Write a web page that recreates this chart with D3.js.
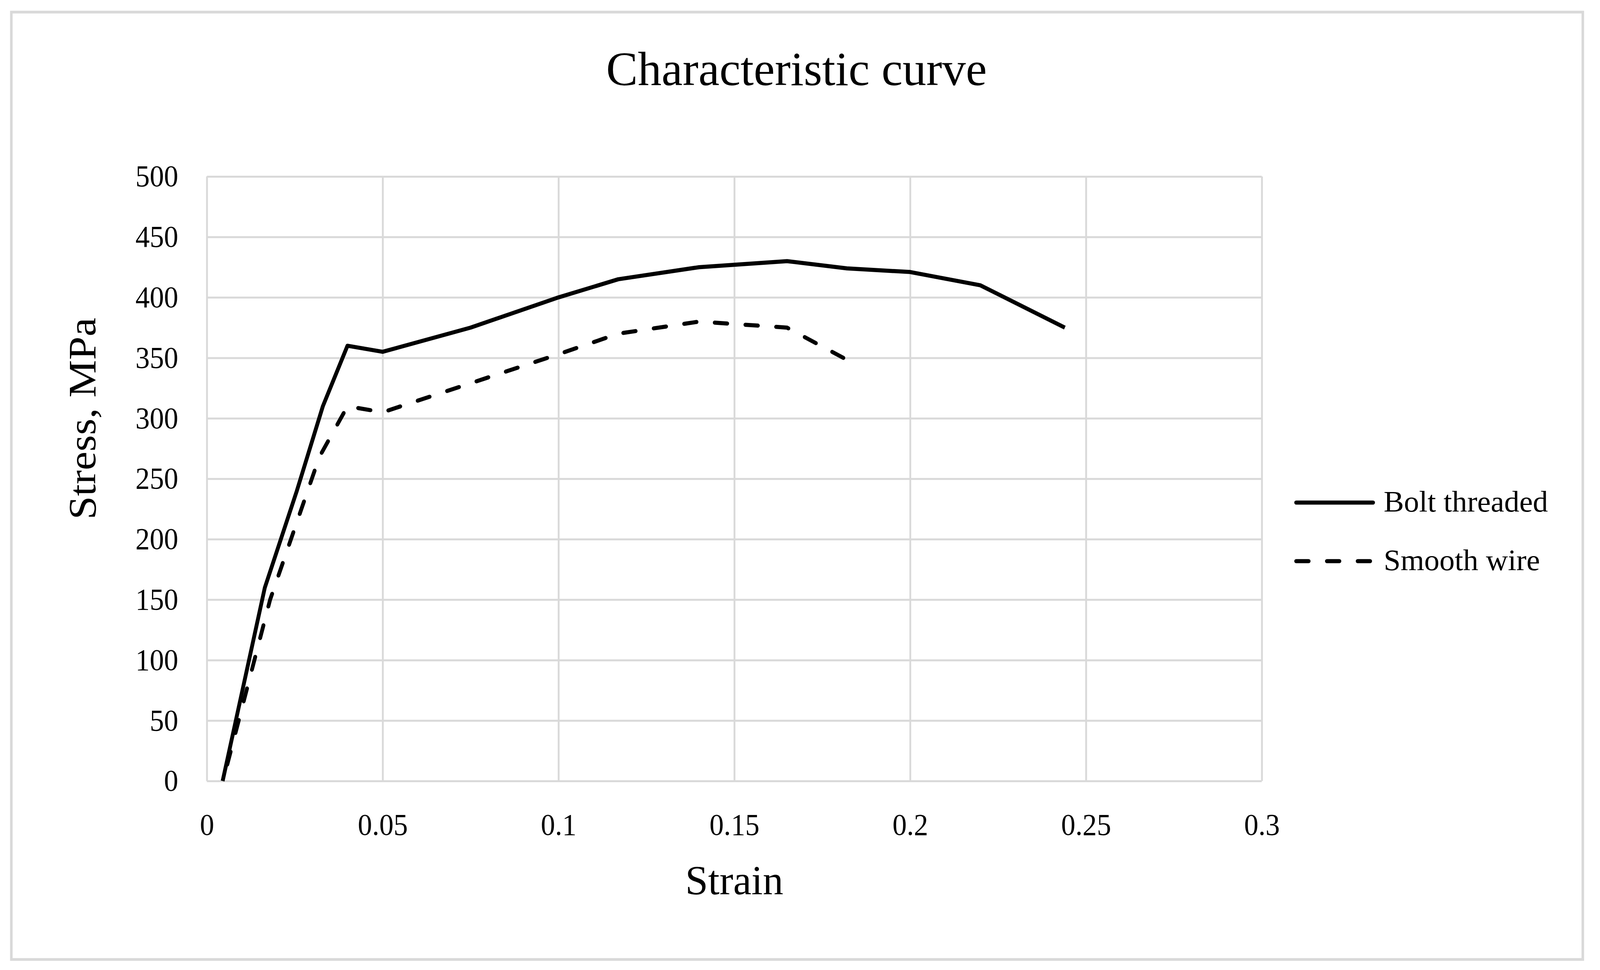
<!DOCTYPE html>
<html>
<head>
    <title>Characteristic curve</title>
    <script src="https://cdn.jsdelivr.net/npm/d3@7"></script>
    <style>
        html, body { margin: 0; padding: 0; background: #fff; overflow: hidden; }
        svg { display: block; width: 100vw; height: 100vh; }
        text { font-family: "Liberation Serif", "Times New Roman", serif; fill: #000; }
    </style>
</head>
<body>
<svg viewBox="0 0 4371 2484" preserveAspectRatio="none"></svg>

<script>
    const svg = d3.select("svg");

    // data
    const boltStrain = [0.0045, 0.0165, 0.0256, 0.033, 0.040, 0.050, 0.075, 0.100, 0.117, 0.140, 0.165, 0.182, 0.200, 0.220, 0.244];
    const boltStress = [0, 160, 240, 310, 360, 355, 375, 400, 415, 425, 430, 424, 421, 410, 375];

    const wireStrain = [0.0046, 0.018, 0.032, 0.040, 0.050, 0.075, 0.100, 0.117, 0.140, 0.165, 0.181];
    const wireStress = [0, 150, 268, 310, 305, 329, 353, 370, 380, 375, 350];

    const seriesNames = ["Bolt threaded", "Smooth wire"];
    const xTicks = [0, 0.05, 0.1, 0.15, 0.2, 0.25, 0.3];
    const xTickLabels = ["0", "0.05", "0.1", "0.15", "0.2", "0.25", "0.3"];
    const yTicks = [0, 50, 100, 150, 200, 250, 300, 350, 400, 450, 500];

    // layout
    const plotLeft = 565, plotRight = 3447, plotTop = 452, plotBottom = 2000;
    const gridColor = "#d9d9d9";

    const x = d3.scaleLinear().domain([0, 0.3]).range([plotLeft, plotRight]);
    const y = d3.scaleLinear().domain([0, 500]).range([plotBottom, plotTop]);

    // outer chart border
    svg.append("rect")
        .attr("x", 31).attr("y", 31)
        .attr("width", 4293).attr("height", 2426)
        .attr("fill", "#fff")
        .attr("stroke", gridColor)
        .attr("stroke-width", 7);

    // title
    svg.append("text")
        .attr("x", 2176).attr("y", 218)
        .attr("text-anchor", "middle")
        .attr("font-size", 122)
        .attr("textLength", 1040)
        .attr("lengthAdjust", "spacingAndGlyphs")
        .text("Characteristic curve");

    // y axis + horizontal gridlines
    const yAxis = svg.append("g")
        .attr("transform", `translate(${plotLeft},0)`)
        .call(d3.axisLeft(y).tickValues(yTicks).tickFormat(d3.format("d"))
            .tickSize(-(plotRight - plotLeft)).tickPadding(78));
    yAxis.select(".domain").remove();
    yAxis.selectAll(".tick line").attr("stroke", gridColor).attr("stroke-width", 5);
    yAxis.selectAll(".tick text")
        .attr("font-size", 78)
        .attr("font-family", "Liberation Serif, serif")
        .attr("fill", "#000");

    // x axis + vertical gridlines
    const xAxis = svg.append("g")
        .attr("transform", `translate(0,${plotBottom})`)
        .call(d3.axisBottom(x).tickValues(xTicks).tickFormat((d, i) => xTickLabels[i])
            .tickSize(-(plotBottom - plotTop)).tickPadding(0));
    xAxis.select(".domain").remove();
    xAxis.selectAll(".tick line").attr("stroke", gridColor).attr("stroke-width", 5);
    xAxis.selectAll(".tick text")
        .attr("y", 138)
        .attr("dy", null)
        .attr("font-size", 78)
        .attr("font-family", "Liberation Serif, serif")
        .attr("fill", "#000");

    // axis titles
    svg.append("text")
        .attr("x", (plotLeft + plotRight) / 2).attr("y", 2290)
        .attr("text-anchor", "middle")
        .attr("font-size", 106)
        .attr("textLength", 268)
        .attr("lengthAdjust", "spacingAndGlyphs")
        .text("Strain");

    svg.append("text")
        .attr("transform", "translate(260,1072) rotate(-90)")
        .attr("text-anchor", "middle")
        .attr("font-size", 106)
        .attr("textLength", 517)
        .attr("lengthAdjust", "spacingAndGlyphs")
        .text("Stress, MPa");

    // curves
    const line = d3.line()
        .x(d => x(d[0]))
        .y(d => y(d[1]));

    const bolt = d3.zip(boltStrain, boltStress);
    const wire = d3.zip(wireStrain, wireStress);

    const wirePath = svg.append("path")
        .datum(wire)
        .attr("d", line)
        .attr("fill", "none")
        .attr("stroke", "#000")
        .attr("stroke-width", 10.5)
        .attr("stroke-linejoin", "round")
        .attr("stroke-linecap", "round")
        .attr("stroke-dasharray", "34,50");

    // shift the dash pattern so the dashed curve ends on a dash, like the original
    const wireLen = wirePath.node().getTotalLength();
    wirePath.attr("stroke-dashoffset", ((34 - wireLen % 84) % 84 + 84) % 84);

    svg.append("path")
        .datum(bolt)
        .attr("d", line)
        .attr("fill", "none")
        .attr("stroke", "#000")
        .attr("stroke-width", 10.5)
        .attr("stroke-linejoin", "round");

    // legend
    const legendRows = [
        { name: seriesNames[0], y: 1287, dash: null, len: 449 },
        { name: seriesNames[1], y: 1437, dash: "34,50", len: 427 }
    ];
    const legend = svg.append("g");
    legend.selectAll("line")
        .data(legendRows)
        .enter().append("line")
        .attr("x1", 3541).attr("x2", 3751)
        .attr("y1", d => d.y).attr("y2", d => d.y)
        .attr("stroke", "#000")
        .attr("stroke-width", 10.5)
        .attr("stroke-linecap", "round")
        .attr("stroke-dasharray", d => d.dash);
    legend.selectAll("text")
        .data(legendRows)
        .enter().append("text")
        .attr("x", 3780)
        .attr("y", d => d.y + 23)
        .attr("font-size", 77)
        .attr("textLength", d => d.len)
        .attr("lengthAdjust", "spacingAndGlyphs")
        .text(d => d.name);
</script>
</body>
</html>
